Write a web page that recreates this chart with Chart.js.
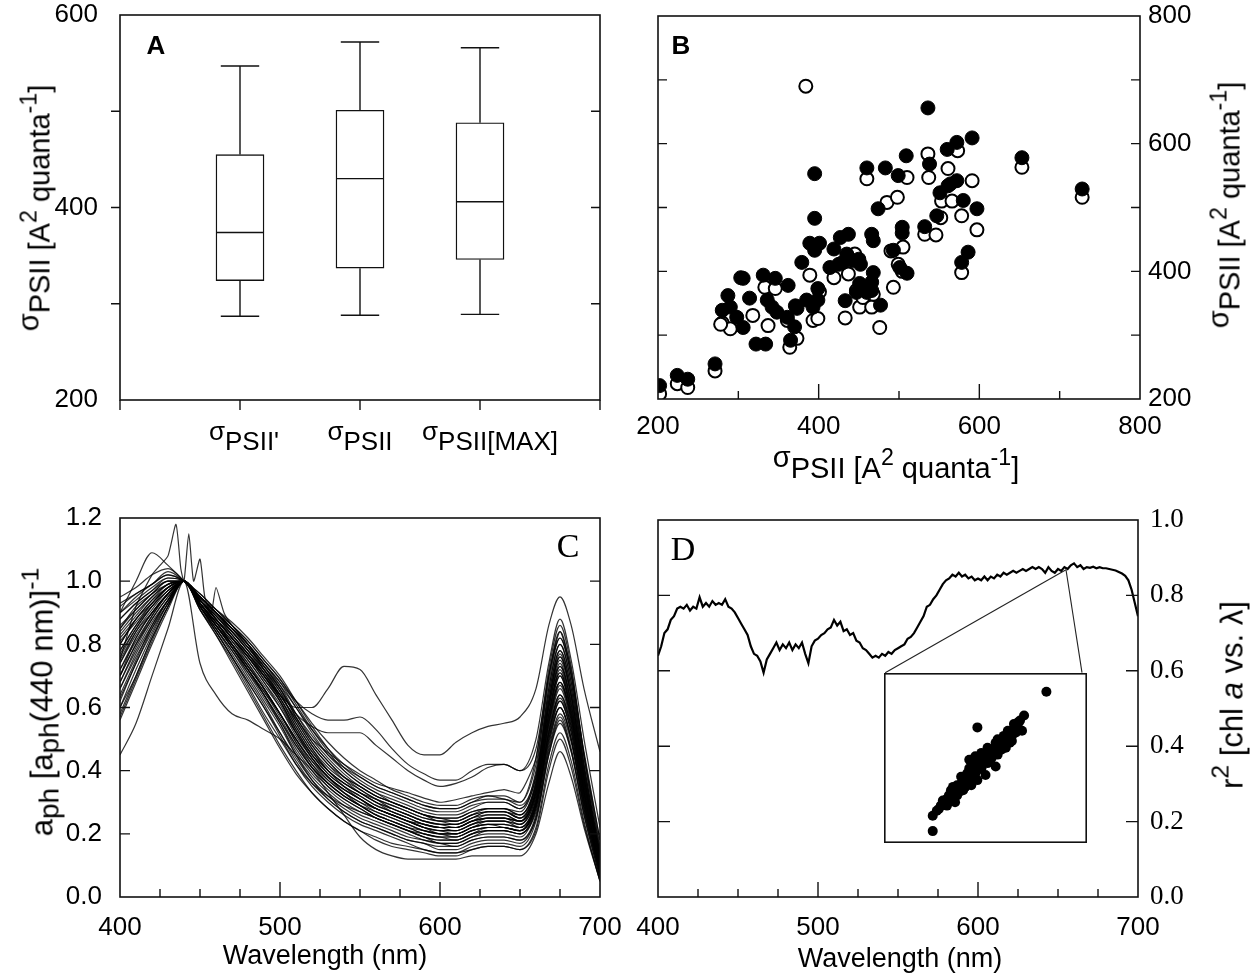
<!DOCTYPE html>
<html><head><meta charset="utf-8"><title>Figure</title>
<script src="https://cdn.jsdelivr.net/npm/chart.js@4.4.1/dist/chart.umd.min.js"></script>
<style>
html,body{margin:0;padding:0;background:#fff;}
#wrap{position:relative;width:1256px;height:980px;overflow:hidden;background:#fff;font-family:"Liberation Sans",Arial,sans-serif;color:#000;}
#wrap canvas{position:absolute;}
.t{position:absolute;white-space:nowrap;font-size:26px;line-height:1;transform:translate(-50%,-50%);}
.rot{transform:translate(-50%,-50%) rotate(-90deg);}
.sg{position:relative;top:-0.38em;}
.sb{font-size:0.9em;position:relative;top:0.22em;}
.sp{font-size:0.8em;position:relative;top:-0.55em;}
.serif{font-family:"Liberation Serif","Times New Roman",serif;}
</style></head><body>
<div id="wrap">
<canvas id="cA" width="628" height="480" style="left:0;top:0"></canvas>
<canvas id="cB" width="628" height="480" style="left:628px;top:0"></canvas>
<canvas id="cC" width="628" height="490" style="left:0;top:490px"></canvas>
<canvas id="cD" width="628" height="490" style="left:628px;top:490px"></canvas>
<canvas id="cI" width="10" height="10" style="left:0;top:0"></canvas>

<div class="t" style="left:156px;top:45px;font-weight:bold;font-size:26px">A</div>
<div class="t" style="left:681px;top:45px;font-weight:bold;font-size:26px">B</div>
<div class="t serif" style="left:568px;top:546px;font-size:34px">C</div>
<div class="t serif" style="left:683px;top:549px;font-size:34px">D</div>
<div class="t rot" style="left:40px;top:208px;font-size:29px"><span class="sg">σ</span>PSII [A<span class="sp">2</span> quanta<span class="sp">-1</span>]</div>
<div class="t rot" style="left:1230px;top:205px;font-size:29px"><span class="sg">σ</span>PSII [A<span class="sp">2</span> quanta<span class="sp">-1</span>]</div>
<div class="t" style="left:896px;top:468px;font-size:29px"><span class="sg">σ</span>PSII [A<span class="sp">2</span> quanta<span class="sp">-1</span>]</div>
<div class="t rot" style="left:42px;top:702px;font-size:31px">a<span class="sb">ph</span> [a<span class="sb">ph</span>(440 nm)]<span class="sp">-1</span></div>
<div class="t" style="left:325px;top:955px;font-size:27px">Wavelength (nm)</div>
<div class="t" style="left:900px;top:958px;font-size:27px">Wavelength (nm)</div>
<div class="t rot" style="left:1232px;top:695px;font-size:31px">r<span class="sp">2</span> [chl <i>a</i> vs. λ]</div>
</div>
<script>
// ---------------- Panel A data (box plots) ----------------
const A_labels = ["σ|PSII'", "σ|PSII", "σ|PSII[MAX]"];
const A_pos = [1, 2, 3];
const A_min = [287, 288, 289];
const A_q1  = [324, 337, 346];
const A_med = [374, 430, 406];
const A_q3  = [455, 501, 488];
const A_max = [547, 572, 566];

// ---------------- Panel B data (scatter) ----------------
const B_filled = [
 [202,221],[224,237],[237,231],[271,255],
 [280,339],[287,362],[290,344],[298,328],[306,312],[303,390],[314,358],[306,389],
 [322,286],[334,286],
 [331,394],[346,389],[336,355],[342,344],[348,336],
 [362,378],[361,328],[370,313],[365,292],[371,346],[373,342],
 [385,355],[393,344],[399,355],[399,373],[379,414],[389,444],[401,444],[395,433],[395,483],[395,553],
 [419,435],[414,406],[425,411],[433,354],[427,453],[437,458],[435,427],[442,417],[450,419],[430,414],[452,411],[447,367],
 [451,381],[460,562],[466,458],[468,448],[468,398],[466,383],[466,370],[460,367],[477,347],[474,498],[483,562],[493,433],[499,550],[504,469],[504,460],[509,581],[501,406],[510,397],
 [532,470],[536,656],[538,568],[547,487],[551,523],[561,534],[560,591],[572,542],[572,602],[564,537],[580,511],[578,414],[586,430],[591,609],[597,498],[653,578],[728,529]
];
const B_open = [
 [202,208],[224,224],[237,218],[271,244],
 [280,319],[290,310],[278,317],[318,331],[333,375],[346,373],[337,315],[361,323],[364,281],[373,295],
 [389,394],[393,323],[399,326],[401,368],[384,690],
 [419,390],[433,327],[445,427],[437,396],[447,370],[451,344],[455,359],[466,344],[460,545],[468,364],[476,312],[485,508],[498,516],[490,432],[493,375],[505,438],[504,400],[510,547],[499,411],
 [532,458],[546,457],[536,584],[537,547],[552,484],[553,510],[561,561],[573,589],[591,542],[566,510],[578,487],[578,398],[597,465],[653,563],[728,516]
];

// ---------------- Panel C data (normalised spectra) ----------------
const C_wl = [400,410,420,430,440,450,460,470,480,490,500,510,520,530,540,550,560,570,580,590,600,610,620,630,640,650,660,668,675,682,690,700];
const c01 = [0.90,0.95,0.99,1.02,1.00,0.95,0.90,0.85,0.80,0.74,0.68,0.60,0.53,0.47,0.42,0.38,0.35,0.33,0.31,0.29,0.28,0.28,0.30,0.32,0.31,0.30,0.42,0.68,0.82,0.70,0.42,0.14];
const c02 = [0.85,0.92,0.96,1.00,1.00,0.94,0.88,0.83,0.77,0.71,0.64,0.56,0.48,0.42,0.38,0.35,0.32,0.30,0.28,0.26,0.25,0.25,0.27,0.28,0.28,0.27,0.38,0.62,0.76,0.64,0.38,0.12];
const c03 = [0.75,0.84,0.90,0.96,1.00,0.93,0.87,0.81,0.74,0.66,0.58,0.49,0.42,0.37,0.33,0.30,0.28,0.26,0.24,0.22,0.21,0.21,0.23,0.24,0.24,0.23,0.33,0.55,0.68,0.57,0.33,0.10];
const c04 = [0.70,0.80,0.88,0.95,1.00,0.92,0.85,0.78,0.70,0.62,0.54,0.45,0.38,0.33,0.29,0.26,0.24,0.22,0.20,0.18,0.17,0.17,0.19,0.20,0.20,0.19,0.28,0.50,0.62,0.52,0.30,0.08];
const c05 = [0.62,0.74,0.84,0.93,1.00,0.91,0.84,0.76,0.68,0.60,0.51,0.42,0.35,0.30,0.26,0.23,0.21,0.19,0.17,0.15,0.14,0.14,0.16,0.17,0.17,0.16,0.24,0.45,0.56,0.46,0.26,0.06];
const c06 = [0.88,0.93,0.97,1.01,1.00,0.96,0.91,0.86,0.81,0.75,0.69,0.62,0.55,0.49,0.44,0.40,0.37,0.34,0.32,0.30,0.29,0.29,0.31,0.32,0.32,0.30,0.44,0.72,0.86,0.73,0.45,0.16];
const c07 = [0.80,0.88,0.93,0.98,1.00,0.94,0.89,0.84,0.78,0.72,0.65,0.55,0.47,0.40,0.35,0.31,0.28,0.26,0.24,0.22,0.20,0.20,0.22,0.23,0.22,0.21,0.30,0.52,0.64,0.54,0.31,0.09];
const c08 = [0.68,0.78,0.87,0.94,1.00,0.93,0.87,0.80,0.73,0.66,0.58,0.50,0.43,0.38,0.34,0.31,0.28,0.26,0.24,0.22,0.21,0.20,0.22,0.24,0.24,0.22,0.31,0.56,0.70,0.58,0.34,0.10];
const c09 = [0.92,0.96,0.99,1.03,1.00,0.95,0.90,0.84,0.78,0.71,0.63,0.54,0.46,0.40,0.36,0.33,0.30,0.28,0.26,0.24,0.23,0.23,0.25,0.26,0.26,0.24,0.34,0.60,0.74,0.61,0.36,0.11];
const c10 = [0.78,0.86,0.92,0.97,1.00,0.92,0.86,0.79,0.71,0.63,0.55,0.46,0.39,0.34,0.30,0.27,0.25,0.23,0.21,0.19,0.18,0.18,0.20,0.21,0.21,0.20,0.27,0.47,0.58,0.49,0.28,0.07];
const c11 = [0.72,0.82,0.90,0.96,1.00,0.94,0.88,0.82,0.76,0.69,0.62,0.53,0.45,0.39,0.35,0.32,0.29,0.27,0.25,0.23,0.22,0.22,0.24,0.25,0.25,0.24,0.36,0.64,0.78,0.66,0.40,0.13];
const c12 = [0.66,0.76,0.85,0.93,1.00,0.92,0.85,0.78,0.71,0.64,0.56,0.47,0.40,0.35,0.31,0.28,0.25,0.23,0.21,0.19,0.17,0.17,0.19,0.21,0.21,0.20,0.29,0.53,0.66,0.55,0.32,0.09];
const c13 = [0.86,0.91,0.96,1.00,1.00,0.93,0.87,0.80,0.72,0.64,0.56,0.48,0.41,0.36,0.32,0.29,0.26,0.24,0.22,0.21,0.20,0.19,0.21,0.22,0.22,0.21,0.29,0.50,0.60,0.50,0.29,0.08];
const c14 = [0.58,0.70,0.82,0.92,1.00,0.93,0.86,0.80,0.74,0.67,0.60,0.52,0.45,0.40,0.36,0.33,0.31,0.29,0.27,0.25,0.24,0.24,0.26,0.27,0.27,0.26,0.37,0.66,0.80,0.68,0.41,0.13];
const c15 = [0.82,0.88,0.94,0.98,1.00,0.91,0.83,0.75,0.66,0.57,0.48,0.40,0.33,0.28,0.24,0.21,0.18,0.16,0.15,0.14,0.13,0.13,0.15,0.16,0.16,0.15,0.22,0.42,0.52,0.43,0.24,0.05];
const c16 = [0.76,0.85,0.92,0.98,1.00,0.95,0.90,0.85,0.80,0.74,0.67,0.58,0.50,0.44,0.39,0.35,0.32,0.30,0.28,0.26,0.25,0.25,0.27,0.28,0.28,0.26,0.35,0.58,0.72,0.60,0.36,0.12];
const c17 = [0.95,0.98,1.02,1.04,1.00,0.94,0.88,0.82,0.75,0.68,0.60,0.51,0.44,0.38,0.34,0.31,0.28,0.26,0.24,0.22,0.21,0.21,0.23,0.24,0.24,0.23,0.32,0.57,0.70,0.58,0.34,0.10];
const c18 = [0.64,0.75,0.86,0.94,1.00,0.93,0.86,0.79,0.72,0.65,0.57,0.48,0.41,0.36,0.32,0.29,0.27,0.25,0.23,0.21,0.20,0.20,0.22,0.23,0.23,0.22,0.30,0.54,0.67,0.56,0.33,0.09];
const c19 = [0.74,0.83,0.90,0.96,1.00,0.94,0.89,0.83,0.77,0.70,0.62,0.52,0.44,0.38,0.33,0.29,0.26,0.24,0.22,0.20,0.19,0.19,0.21,0.22,0.22,0.21,0.30,0.52,0.63,0.53,0.31,0.09];
const c20 = [0.84,0.90,0.95,0.99,1.00,0.92,0.85,0.77,0.69,0.61,0.52,0.43,0.36,0.31,0.27,0.24,0.22,0.20,0.18,0.17,0.16,0.16,0.18,0.19,0.19,0.18,0.25,0.46,0.57,0.47,0.27,0.07];
const c21 = [0.60,0.72,0.83,0.93,1.00,0.94,0.89,0.84,0.79,0.73,0.66,0.57,0.49,0.43,0.38,0.34,0.31,0.28,0.26,0.24,0.23,0.23,0.25,0.27,0.27,0.25,0.34,0.60,0.73,0.61,0.37,0.12];
const c22 = [0.90,0.94,0.98,1.01,1.00,0.92,0.84,0.76,0.67,0.58,0.50,0.42,0.36,0.32,0.29,0.27,0.25,0.23,0.21,0.19,0.18,0.18,0.20,0.21,0.21,0.20,0.28,0.49,0.60,0.50,0.29,0.08];
const c23 = [0.68,0.79,0.88,0.95,1.00,0.95,0.90,0.86,0.81,0.75,0.69,0.61,0.53,0.46,0.40,0.36,0.33,0.31,0.29,0.27,0.26,0.26,0.28,0.30,0.30,0.28,0.40,0.70,0.84,0.71,0.44,0.15];
const c24 = [0.78,0.86,0.93,0.98,1.00,0.93,0.86,0.79,0.72,0.64,0.55,0.45,0.37,0.31,0.27,0.24,0.22,0.20,0.18,0.17,0.15,0.15,0.17,0.18,0.18,0.17,0.25,0.45,0.55,0.46,0.26,0.06];
const c25 = [0.56,0.68,0.80,0.91,1.00,0.93,0.87,0.81,0.75,0.68,0.61,0.52,0.44,0.38,0.34,0.31,0.28,0.26,0.24,0.23,0.22,0.22,0.24,0.25,0.25,0.24,0.33,0.58,0.71,0.59,0.35,0.11];
const c26 = [0.83,0.89,0.95,0.99,1.00,0.94,0.89,0.83,0.77,0.70,0.63,0.55,0.47,0.41,0.37,0.34,0.31,0.29,0.27,0.25,0.24,0.23,0.25,0.27,0.27,0.25,0.36,0.62,0.77,0.64,0.39,0.12];
const c27 = [0.80,0.88,0.94,0.99,1.00,0.95,0.90,0.85,0.80,0.74,0.68,0.62,0.58,0.56,0.56,0.57,0.53,0.47,0.42,0.39,0.37,0.37,0.40,0.42,0.42,0.40,0.50,0.74,0.88,0.75,0.50,0.22];
const c28 = [0.74,0.84,0.91,0.97,1.00,0.95,0.90,0.85,0.79,0.72,0.65,0.58,0.54,0.52,0.52,0.52,0.48,0.44,0.40,0.37,0.35,0.36,0.38,0.41,0.42,0.40,0.47,0.70,0.82,0.70,0.46,0.18];
const c29 = [0.90,1.00,1.09,1.05,1.00,0.94,0.88,0.82,0.76,0.69,0.62,0.53,0.45,0.39,0.35,0.32,0.29,0.27,0.25,0.23,0.22,0.22,0.24,0.25,0.25,0.24,0.33,0.58,0.71,0.59,0.35,0.11];
const c30 = [0.60,0.70,0.82,0.92,1.00,0.74,0.64,0.58,0.56,0.53,0.50,0.45,0.40,0.33,0.26,0.19,0.15,0.13,0.12,0.12,0.12,0.12,0.13,0.13,0.13,0.13,0.20,0.36,0.46,0.38,0.22,0.05];
const c31 = [0.45,0.55,0.70,0.85,1.00,0.93,0.87,0.80,0.73,0.66,0.58,0.50,0.43,0.37,0.33,0.30,0.27,0.25,0.23,0.21,0.20,0.20,0.22,0.23,0.23,0.22,0.31,0.55,0.68,0.56,0.33,0.10];
const c32 = [0.70,0.82,0.90,0.96,1.00,0.94,0.88,0.82,0.76,0.70,0.64,0.60,0.60,0.66,0.73,0.72,0.64,0.56,0.48,0.45,0.45,0.49,0.52,0.54,0.55,0.57,0.66,0.86,0.95,0.86,0.66,0.46];
const c33 = [0.72,0.81,0.89,0.96,1.00,0.95,0.91,0.87,0.82,0.76,0.70,0.62,0.54,0.47,0.41,0.37,0.34,0.32,0.30,0.28,0.27,0.27,0.29,0.30,0.30,0.28,0.38,0.64,0.78,0.66,0.40,0.13];
const c34 = [0.66,0.77,0.86,0.94,1.00,0.92,0.84,0.76,0.68,0.60,0.52,0.44,0.37,0.32,0.28,0.25,0.23,0.21,0.19,0.18,0.17,0.16,0.18,0.19,0.19,0.18,0.26,0.48,0.60,0.50,0.28,0.07];
const c35 = [0.88,0.93,0.97,1.00,1.00,0.93,0.88,0.82,0.76,0.70,0.63,0.54,0.46,0.40,0.36,0.33,0.30,0.27,0.25,0.23,0.22,0.21,0.23,0.25,0.25,0.23,0.32,0.56,0.68,0.57,0.33,0.10];
const c36 = [0.57,0.69,0.81,0.92,1.00,0.94,0.88,0.82,0.77,0.71,0.64,0.56,0.48,0.42,0.37,0.33,0.30,0.28,0.26,0.24,0.23,0.22,0.24,0.26,0.26,0.24,0.34,0.61,0.75,0.63,0.38,0.12];
const c37 = [0.81,0.87,0.93,0.98,1.00,0.92,0.86,0.80,0.73,0.66,0.58,0.49,0.41,0.35,0.31,0.28,0.25,0.23,0.21,0.20,0.19,0.19,0.21,0.22,0.22,0.21,0.29,0.51,0.62,0.52,0.30,0.08];
const c38 = [0.93,0.96,0.99,1.02,1.00,0.96,0.91,0.86,0.80,0.73,0.66,0.57,0.49,0.43,0.38,0.35,0.32,0.30,0.28,0.26,0.25,0.24,0.26,0.28,0.28,0.26,0.36,0.60,0.73,0.62,0.37,0.12];
const c39 = [0.63,0.74,0.85,0.94,1.00,0.93,0.86,0.79,0.72,0.65,0.58,0.50,0.42,0.36,0.32,0.29,0.26,0.24,0.22,0.20,0.19,0.18,0.20,0.22,0.22,0.21,0.29,0.52,0.64,0.54,0.31,0.09];
const c40 = [0.77,0.85,0.92,0.97,1.00,0.94,0.90,0.85,0.79,0.73,0.67,0.60,0.52,0.45,0.40,0.36,0.33,0.30,0.28,0.26,0.24,0.24,0.26,0.27,0.27,0.25,0.35,0.62,0.76,0.64,0.38,0.12];
const c41 = [0.70,0.80,0.89,0.96,1.00,0.91,0.83,0.74,0.65,0.56,0.47,0.39,0.33,0.28,0.24,0.21,0.19,0.17,0.16,0.15,0.14,0.14,0.15,0.16,0.16,0.15,0.21,0.40,0.50,0.41,0.23,0.05];
const c42 = [0.85,0.91,0.96,0.99,1.00,0.95,0.90,0.84,0.78,0.72,0.66,0.58,0.51,0.45,0.41,0.38,0.35,0.33,0.31,0.29,0.28,0.28,0.30,0.31,0.31,0.29,0.39,0.66,0.80,0.68,0.42,0.14];
const C_curves = [c01,c02,c03,c04,c05,c06,c07,c08,c09,c10,c11,c12,c13,c14,c15,c16,c17,c18,c19,c20,c21,
  c22,c23,c24,c25,c26,c27,c28,c29,c30,c31,c32,c33,c34,c35,c36,c37,c38,c39,c40,c41,c42];
// one spiky spectrum sampled on its own wavelengths
const C_spikyWl = [400,410,420,425,430,435,438,440,443,446,450,453,457,460,465,470,480,490,500,520,540,560,580,600,620,640,650,660,668,675,682,690,700];
const C_spikyA  = [0.75,0.92,1.02,1.05,1.08,1.18,1.04,1.00,1.15,1.00,1.07,0.95,0.90,0.98,0.90,0.86,0.80,0.72,0.64,0.50,0.42,0.36,0.33,0.30,0.32,0.34,0.33,0.44,0.70,0.84,0.72,0.45,0.18];

// ---------------- Panel D data (r^2 spectrum, 2 nm steps from 400 nm) ----------------
const D_start = 400, D_step = 2;
const D_r2 = [
 0.64,0.665,0.70,0.71,0.735,0.745,0.765,0.77,0.765,0.775,
 0.76,0.77,0.765,0.795,0.77,0.78,0.77,0.785,0.775,0.78,
 0.775,0.79,0.77,0.765,0.755,0.74,0.725,0.71,0.695,0.665,
 0.645,0.64,0.625,0.595,0.63,0.645,0.66,0.675,0.655,0.67,
 0.66,0.675,0.655,0.67,0.66,0.675,0.645,0.62,0.665,0.68,
 0.685,0.695,0.70,0.71,0.715,0.735,0.72,0.73,0.705,0.71,
 0.695,0.70,0.68,0.675,0.66,0.655,0.645,0.635,0.64,0.635,
 0.645,0.64,0.65,0.645,0.655,0.66,0.665,0.67,0.685,0.69,
 0.70,0.715,0.73,0.745,0.77,0.775,0.79,0.80,0.815,0.83,
 0.84,0.845,0.855,0.85,0.86,0.85,0.855,0.845,0.85,0.84,
 0.845,0.84,0.85,0.84,0.85,0.845,0.855,0.85,0.86,0.855,
 0.86,0.865,0.86,0.865,0.87,0.865,0.87,0.875,0.87,0.875,
 0.87,0.86,0.875,0.865,0.86,0.87,0.865,0.875,0.87,0.88,
 0.885,0.875,0.88,0.87,0.875,0.873,0.876,0.872,0.875,0.872,
 0.872,0.87,0.868,0.866,0.862,0.858,0.852,0.84,0.815,0.78,
 0.745
];
// zoom source point on the curve and inset frame (data units of panel D)
const D_zoomFrom = [655, 0.868];
const D_insetX = [541, 668];
const D_insetY = [0.143, 0.595];
const D_zoomTo = [[542, 0.595], [665, 0.595]];
// inset scatter (arbitrary units)
const I_pts = [
 [24,7],[24,16],[26,19],[29,25],[31,22],[31,26],[32,28],[33,31],[34,30],[35,24],[36,34],[36,28],[37,33],[38,39],[39,31],[40,35],[41,38],[41,41],[42,49],[42,40],
 [43,34],[44,43],[45,51],[46,37],[46,43],[46,68],[47,45],[48,53],[49,47],[50,49],[50,40],[51,56],[52,49],[53,53],[54,55],[55,59],[55,45],[56,61],[57,58],[58,55],
 [59,63],[60,61],[60,56],[61,66],[62,59],[63,63],[64,70],[65,68],[66,71],[68,66],[69,75],[80,89],
 [27,20],[28,22],[30,24],[32,24],[33,27],[34,33],[35,29],[37,30],[38,35],[39,37],[40,33],[42,44],[43,38],[44,47],[45,41],
 [47,48],[48,44],[49,52],[51,47],[52,54],[53,50],[55,57],[56,52],[58,60],[59,57],[61,62],[62,64],[63,60],[65,65],[66,68],[67,72]
];

// ---------------- helpers ----------------
Chart.defaults.font.family = "'Liberation Sans', Arial, sans-serif";
Chart.defaults.font.size = 26;
Chart.defaults.color = '#000';
const SERIF = "'Liberation Serif', 'Times New Roman', serif";
const noGrid = {display:false, drawTicks:false};
const noBorder = {display:false};
function base(extra){
  return Object.assign({responsive:false, animation:false, devicePixelRatio:1, events:[],
    plugins:{legend:{display:false}, tooltip:{enabled:false}}}, extra);
}
// fixed axis thickness, and no extra label overhang padding
function fitV(w){ return s => { s.width = w; s.paddingTop = 0; s.paddingBottom = 0; }; }
function fitH(h){ return s => { s.height = h; s.paddingLeft = 0; s.paddingRight = 0; }; }
// adjust the layout padding (raw config) until the plot area sits at the wanted place of the canvas
function pinArea(chart, target){
  for (let k = 0; k < 5; k++){
    const a = chart.chartArea, p = chart.config.options.layout.padding;
    const dl = target.left - a.left, dt = target.top - a.top, dr = a.right - target.right, db = a.bottom - target.bottom;
    if (Math.abs(dl) + Math.abs(dt) + Math.abs(dr) + Math.abs(db) < 0.5) break;
    p.left += dl; p.top += dt; p.right += dr; p.bottom += db;
    chart.update('none');
  }
}
function frameTicks(specs){
  return {id:'frameTicks', afterDraw(chart){
    const ctx = chart.ctx, a = chart.chartArea;
    ctx.save();
    ctx.strokeStyle = '#111';
    ctx.lineWidth = 1.6;
    ctx.strokeRect(a.left, a.top, a.right - a.left, a.bottom - a.top);
    ctx.lineWidth = 1.4;
    ctx.beginPath();
    specs.forEach(s => {
      const sc = chart.scales[s.scale];
      s.values.forEach(v => {
        const p = sc.getPixelForValue(v);
        if (s.side === 'bottom') { ctx.moveTo(p, a.bottom); ctx.lineTo(p, a.bottom - s.len); }
        else if (s.side === 'left') { ctx.moveTo(a.left, p); ctx.lineTo(a.left + s.len, p); }
        else if (s.side === 'right') { ctx.moveTo(a.right, p); ctx.lineTo(a.right - s.len, p); }
      });
    });
    ctx.stroke();
    ctx.restore();
  }};
}

// ---------------- Chart A ----------------
const boxWhiskers = {id:'boxWhiskers', afterDatasetsDraw(chart){
  const ctx = chart.ctx, sx = chart.scales.x, sy = chart.scales.y;
  ctx.save(); ctx.strokeStyle = '#111'; ctx.lineWidth = 1.4; ctx.beginPath();
  A_pos.forEach((p, i) => {
    const x = sx.getPixelForValue(p);
    const cap = sx.getPixelForValue(p + 0.16) - x;
    const half = sx.getPixelForValue(p + 0.2) - x;
    const yMax = sy.getPixelForValue(A_max[i]), yQ3 = sy.getPixelForValue(A_q3[i]);
    const yQ1 = sy.getPixelForValue(A_q1[i]), yMin = sy.getPixelForValue(A_min[i]);
    const yMed = sy.getPixelForValue(A_med[i]);
    ctx.moveTo(x, yMax); ctx.lineTo(x, yQ3);
    ctx.moveTo(x, yQ1); ctx.lineTo(x, yMin);
    ctx.moveTo(x - cap, yMax); ctx.lineTo(x + cap, yMax);
    ctx.moveTo(x - cap, yMin); ctx.lineTo(x + cap, yMin);
    ctx.moveTo(x - half, yMed); ctx.lineTo(x + half, yMed);
  });
  ctx.stroke(); ctx.restore();
}};
const chartA = new Chart(document.getElementById('cA'), {
  type:'bar',
  data:{datasets:[{
    data:A_pos.map((p,i) => ({x:p, y:[A_q1[i], A_q3[i]]})),
    backgroundColor:'#fff', borderColor:'#111', borderWidth:1.4, borderSkipped:false, barThickness:48
  }]},
  options: base({
    layout:{autoPadding:false, padding:{top:15, right:28, left:0, bottom:0}},
    scales:{
      x:{type:'linear', offset:false, min:0, max:4, grid:noGrid, border:noBorder, ticks:{display:false}, afterFit:fitH(80)},
      y:{type:'linear', min:200, max:600, grid:noGrid, border:noBorder,
         ticks:{stepSize:100, padding:22, callback:v => (v % 200 === 0 ? String(v) : '')},
         afterFit:fitV(120)}
    }
  }),
  plugins:[boxWhiskers, frameTicks([
    {scale:'x', side:'bottom', values:[0,1,2,3,4], len:-10},
    {scale:'y', side:'left', values:[300,400,500], len:-9},
    {scale:'y', side:'right', values:[300,400,500], len:9}
  ])]
});
pinArea(chartA, {left:120, top:15, right:600, bottom:400});
// category labels of A, placed from its x scale (small visual nudges to match the figure)
const A_labelNudge = [4, 0, 10];
A_labels.forEach((lab, i) => {
  const parts = lab.split('|');
  const d = document.createElement('div');
  d.className = 't';
  d.style.fontSize = '26px';
  d.style.left = (chartA.scales.x.getPixelForValue(A_pos[i]) + A_labelNudge[i]) + 'px';
  d.style.top = '441px';
  d.innerHTML = '<span class="sg">' + parts[0] + '</span>' + parts[1];
  document.getElementById('wrap').appendChild(d);
});

// ---------------- Chart B ----------------
const chartB = new Chart(document.getElementById('cB'), {
  type:'scatter',
  data:{datasets:[
    {data:B_filled.map(p => ({x:p[0], y:p[1]})), pointRadius:7, backgroundColor:'#000', borderColor:'#000', borderWidth:1},
    {data:B_open.map(p => ({x:p[0], y:p[1]})), pointRadius:6.5, backgroundColor:'#fff', borderColor:'#000', borderWidth:2}
  ]},
  options: base({
    layout:{autoPadding:false, padding:{top:15, left:30, right:0, bottom:0}},
    scales:{
      x:{type:'linear', min:200, max:800, grid:noGrid, border:noBorder,
         ticks:{stepSize:100, padding:12, maxRotation:0, callback:v => (v % 200 === 0 ? String(v) : '')},
         afterFit:fitH(81)},
      y:{type:'linear', position:'right', min:200, max:800, grid:noGrid, border:noBorder,
         ticks:{stepSize:100, padding:8, callback:v => (v % 200 === 0 ? String(v) : '')},
         afterFit:fitV(116)}
    }
  }),
  plugins:[frameTicks([
    {scale:'x', side:'bottom', values:[300,500,700], len:8},
    {scale:'x', side:'bottom', values:[400,600], len:15},
    {scale:'y', side:'left', values:[300,400,500,600,700], len:9},
    {scale:'y', side:'right', values:[300,400,500,600,700], len:9}
  ])]
});
pinArea(chartB, {left:30, top:16, right:512, bottom:399});

// ---------------- Chart C ----------------
const lineStyle = {borderColor:'rgba(0,0,0,0.8)', borderWidth:1.2, pointRadius:0, cubicInterpolationMode:'monotone', fill:false};
const C_sets = C_curves.map(arr => Object.assign({data:arr.map((v,i) => ({x:C_wl[i], y:v}))}, lineStyle));
C_sets.push(Object.assign({data:C_spikyA.map((v,i) => ({x:C_spikyWl[i], y:v}))}, lineStyle, {cubicInterpolationMode:'default', tension:0.2}));
const wlMinor = [425,450,475,525,550,575,625,650,675];
const chartC = new Chart(document.getElementById('cC'), {
  type:'line',
  data:{datasets:C_sets},
  options: base({
    layout:{autoPadding:false, padding:{top:28, right:28, left:0, bottom:0}},
    scales:{
      x:{type:'linear', min:400, max:700, grid:noGrid, border:noBorder,
         ticks:{stepSize:100, padding:15, maxRotation:0}, afterFit:fitH(83)},
      y:{type:'linear', min:0, max:1.2, grid:noGrid, border:noBorder,
         ticks:{stepSize:0.2, padding:18, callback:v => Number(v).toFixed(1)}, afterFit:fitV(120)}
    }
  }),
  plugins:[frameTicks([
    {scale:'x', side:'bottom', values:wlMinor, len:8},
    {scale:'x', side:'bottom', values:[500,600], len:15},
    {scale:'y', side:'left', values:[0.2,0.4,0.6,0.8,1.0], len:10},
    {scale:'y', side:'right', values:[0.2,0.4,0.6,0.8,1.0], len:10}
  ])]
});
pinArea(chartC, {left:120, top:28, right:600, bottom:407});

// ---------------- Chart D ----------------
const D_points = D_r2.map((v,i) => ({x:D_start + i * D_step, y:v}));
const chartD = new Chart(document.getElementById('cD'), {
  type:'line',
  data:{datasets:[
    {data:D_points, borderColor:'#000', borderWidth:2.2, pointRadius:0, tension:0},
    {data:[{x:D_zoomFrom[0], y:D_zoomFrom[1]}, {x:D_zoomTo[0][0], y:D_zoomTo[0][1]}], borderColor:'#222', borderWidth:1.1, pointRadius:0},
    {data:[{x:D_zoomFrom[0], y:D_zoomFrom[1]}, {x:D_zoomTo[1][0], y:D_zoomTo[1][1]}], borderColor:'#222', borderWidth:1.1, pointRadius:0}
  ]},
  options: base({
    layout:{autoPadding:false, padding:{top:30, left:30, right:0, bottom:0}},
    scales:{
      x:{type:'linear', min:400, max:700, grid:noGrid, border:noBorder,
         ticks:{stepSize:100, padding:15, maxRotation:0}, afterFit:fitH(83)},
      y:{type:'linear', position:'right', min:0, max:1, grid:noGrid, border:noBorder,
         ticks:{stepSize:0.2, padding:12, font:{family:SERIF, size:27}, callback:v => Number(v).toFixed(1)},
         afterFit:fitV(118)}
    }
  }),
  plugins:[frameTicks([
    {scale:'x', side:'bottom', values:wlMinor, len:8},
    {scale:'x', side:'bottom', values:[500,600], len:15},
    {scale:'y', side:'left', values:[0.2,0.4,0.6,0.8], len:12},
    {scale:'y', side:'right', values:[0.2,0.4,0.6,0.8], len:12}
  ])]
});
pinArea(chartD, {left:30, top:30, right:510, bottom:407});

// ---------------- Inset (placed from panel D scales) ----------------
(function(){
  const sx = chartD.scales.x, sy = chartD.scales.y;
  const l = Math.round(628 + sx.getPixelForValue(D_insetX[0]));
  const r = Math.round(628 + sx.getPixelForValue(D_insetX[1]));
  const t = Math.round(490 + sy.getPixelForValue(D_insetY[1]));
  const b = Math.round(490 + sy.getPixelForValue(D_insetY[0]));
  const cv = document.getElementById('cI');
  cv.width = r - l; cv.height = b - t;
  cv.style.left = l + 'px'; cv.style.top = t + 'px';
  const insetFrame = {id:'insetFrame', afterDraw(chart){
    const ctx = chart.ctx;
    ctx.save(); ctx.strokeStyle = '#111'; ctx.lineWidth = 1.6;
    ctx.strokeRect(0.8, 0.8, chart.width - 1.6, chart.height - 1.6);
    ctx.restore();
  }};
  new Chart(cv, {
    type:'scatter',
    data:{datasets:[{data:I_pts.map(p => ({x:p[0], y:p[1]})), pointRadius:5, backgroundColor:'#000', borderColor:'#000', borderWidth:0}]},
    options: base({
      layout:{autoPadding:false, padding:0},
      scales:{x:{display:false, min:0, max:100}, y:{display:false, min:0, max:100}}
    }),
    plugins:[insetFrame]
  });
})();
</script>
</body></html>
